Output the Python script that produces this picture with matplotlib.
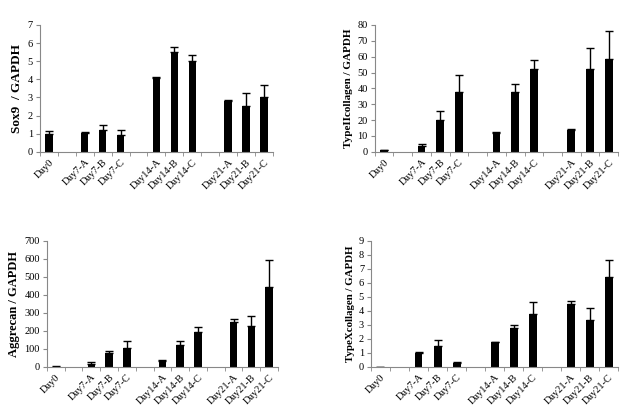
import matplotlib.pyplot as plt
import numpy as np

# categories (blank slots separate the day groups)
labels = ["Day0", "", "Day7-A", "Day7-B", "Day7-C", "",
          "Day14-A", "Day14-B", "Day14-C", "",
          "Day21-A", "Day21-B", "Day21-C"]

sox9 = [1.0, np.nan, 1.02, 1.2, 0.92, np.nan, 4.05, 5.5, 5.0, np.nan, 2.78, 2.55, 3.05]
sox9_err = [0.15, 0, 0.05, 0.3, 0.3, 0, 0.1, 0.3, 0.35, 0, 0.1, 0.7, 0.65]

col2 = [1.0, np.nan, 3.5, 20, 37.5, np.nan, 12, 37.5, 52, np.nan, 14, 52.5, 58.5]
col2_err = [0.3, 0, 1.5, 5.5, 11, 0, 0.5, 5, 6, 0, 0.5, 13, 18]

aggrecan = [2, np.nan, 18, 75, 105, np.nan, 35, 120, 195, np.nan, 250, 228, 445]
aggrecan_err = [1, 0, 8, 15, 40, 0, 4, 25, 25, 0, 18, 57, 150]

col10 = [0, np.nan, 1.0, 1.5, 0.3, np.nan, 1.75, 2.8, 3.8, np.nan, 4.5, 3.35, 6.4]
col10_err = [0, 0, 0.05, 0.45, 0.05, 0, 0.05, 0.2, 0.85, 0, 0.2, 0.85, 1.25]

panels = [
    (sox9, sox9_err, "Sox9  / GAPDH", 9.5, 7, 1, [0.063, 0.635, 0.369, 0.305]),
    (col2, col2_err, "TypeIIcollagen / GAPDH", 8, 80, 10, [0.593, 0.635, 0.385, 0.305]),
    (aggrecan, aggrecan_err, "Aggrecan / GAPDH", 9, 700, 100, [0.074, 0.118, 0.366, 0.303]),
    (col10, col10_err, "TypeXcollagen / GAPDH", 7.8, 9, 1, [0.587, 0.118, 0.391, 0.303]),
]

plt.rcParams['font.family'] = ['Liberation Serif', 'DejaVu Serif']

fig = plt.figure(figsize=(6.32, 4.16), dpi=100)
x = np.arange(len(labels))
for vals, errs, ylab, lsize, ymax, step, pos in panels:
    ax = fig.add_axes(pos)
    v = np.array(vals, dtype=float)
    e = np.array(errs, dtype=float)
    ok = ~np.isnan(v)
    ax.bar(x[ok], v[ok], width=0.42, color='black')
    ax.errorbar(x[ok], v[ok], yerr=[np.zeros(ok.sum()), e[ok]], fmt='none',
                ecolor='black', elinewidth=1, capsize=3, capthick=1)
    ax.set_xlim(-0.5, len(labels) - 0.5)
    ax.set_ylim(0, ymax)
    ax.set_yticks(np.arange(0, ymax + step / 2, step))
    ax.set_xticks(x)
    ax.set_xticklabels(labels, rotation=45, ha='right', rotation_mode='anchor', fontsize=7.5)
    ax.set_xticks(np.arange(-0.5, len(labels), 1), minor=True)
    ax.tick_params(axis='x', which='major', length=0, pad=4)
    ax.tick_params(axis='x', which='minor', length=3, color='#888888')
    ax.tick_params(axis='y', length=3, color='#888888', labelsize=7.5, pad=2)
    for s in ['top', 'right']:
        ax.spines[s].set_visible(False)
    for s in ['left', 'bottom']:
        ax.spines[s].set_color('#888888')
    ax.set_ylabel(ylab, fontsize=lsize, fontweight='bold', labelpad=3)

fig.savefig('out.png', dpi=100)
